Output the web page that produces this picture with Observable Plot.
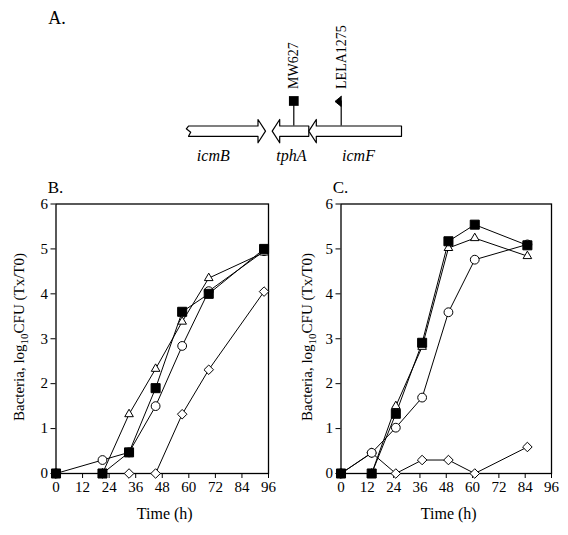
<!DOCTYPE html>
<html><head><meta charset="utf-8">
<script src="https://cdn.jsdelivr.net/npm/d3@7"></script>
<script src="https://cdn.jsdelivr.net/npm/@observablehq/plot@0.6"></script>
<style>
html,body{margin:0;padding:0;background:#fff;}
#fig{position:relative;width:568px;height:535px;overflow:hidden;background:#fff;font-family:'Liberation Serif','Times New Roman',serif;}
#fig > svg{position:absolute;}
#fig svg text{font-family:'Liberation Serif','Times New Roman',serif;}
</style></head><body><div id="fig"></div>
<script>
// ---------- Panel A: gene map (positions in bp) ----------
const geneNames = ["icmB", "tphA", "icmF"];
const geneStart = [0, 837, 1203];
const geneEnd = [770, 1203, 2130];
const geneStrand = [1, -1, -1];
const geneBroken = [true, false, false];
const geneLabelAt = [248, 1028, 1700];
const insertionNames = ["MW627", "LELA1275"];
const insertionPos = [1053, 1527];
const insertionSymbol = ["square", "flag"];

// ---------- Panels B and C: log10 CFU (Tx/T0) over time (h) ----------
const xTicks = [0, 12, 24, 36, 48, 60, 72, 84, 96];
const yTicks = [0, 1, 2, 3, 4, 5, 6];

const timeB = [0, 21, 33, 45, 57, 69, 94];
const bSquare = [0, 0, 0.47, 1.9, 3.6, 4.0, 5.0];
const bCircle = [0, 0.3, 0.47, 1.5, 2.84, 4.06, 4.95];
const bTriangle = [0, 0, 1.32, 2.33, 3.38, 4.35, 4.92];
const bDiamond = [0, 0, 0, 0, 1.32, 2.31, 4.05];

const timeC = [0, 14, 25, 37, 49, 61, 85];
const cSquare = [0, 0, 1.33, 2.91, 5.17, 5.54, 5.08];
const cTriangle = [0, 0, 1.5, 2.82, 5.02, 5.24, 4.84];
const cCircle = [0, 0.46, 1.02, 1.69, 3.59, 4.76, 5.1];
const cDiamond = [0, 0.46, 0, 0.3, 0.3, 0, 0.59];

const FONT = "'Liberation Serif', 'Times New Roman', serif";
const fig = document.getElementById("fig");

// ---------- Panel A ----------
const HEAD = 75, BODY = 0.44, MARK_Y = 2.59, LABEL_Y = 3.62;
function genePolygon(i) {
  const s = geneStart[i], e = geneEnd[i];
  let pts;
  if (geneStrand[i] > 0) {
    pts = [[s, BODY], [e - HEAD, BODY], [e - HEAD, 1], [e, 0], [e - HEAD, -1], [e - HEAD, -BODY], [s, -BODY]];
    if (geneBroken[i]) pts.push([s + 22, -0.1], [s - 22, 0.2]);
  } else {
    pts = [[s, 0], [s + HEAD, 1], [s + HEAD, BODY], [e, BODY], [e, -BODY], [s + HEAD, -BODY], [s + HEAD, -1]];
  }
  pts.push(pts[0]);
  return pts.map(([x, y]) => ({gene: geneNames[i], x, y}));
}
const genePts = geneNames.flatMap((_, i) => genePolygon(i));
const ins = insertionNames.map((name, i) => ({name, x: insertionPos[i], symbol: insertionSymbol[i]}));
const flagPts = ins.filter(d => d.symbol === "flag").flatMap(d =>
  [[d.x, 2.98], [d.x, 2.12], [d.x - 62, 2.55], [d.x, 2.98]].map(([x, y]) => ({name: d.name, x, y})));
const geneLabels = geneNames.map((g, i) => ({g, x: geneLabelAt[i]}));

const plotA = Plot.plot({
  width: 568, height: 175, margin: 0,
  x: {domain: [0, 2130], range: [188, 401], axis: null},
  y: {domain: [-1, 1], range: [142.3, 119], axis: null},
  style: {fontFamily: FONT, background: "transparent", color: "black", overflow: "visible"},
  marks: [
    Plot.ruleX(ins, {x: "x", y1: BODY, y2: MARK_Y, stroke: "black", strokeWidth: 1.2}),
    Plot.line(genePts, {x: "x", y: "y", z: "gene", fill: "white", stroke: "black", strokeWidth: 1.2}),
    Plot.dot(ins.filter(d => d.symbol === "square"), {x: "x", y: MARK_Y, symbol: "square", r: 5.5, fill: "black", stroke: "none"}),
    Plot.line(flagPts, {x: "x", y: "y", z: "name", fill: "black", stroke: "black", strokeWidth: 1}),
    Plot.text(ins, {x: "x", y: LABEL_Y, text: "name", rotate: -90, textAnchor: "start", fontSize: 14}),
    Plot.text(geneLabels, {x: "x", y: -2.09, text: "g", fontSize: 16, fontStyle: "italic"})
  ]
});
plotA.style.left = "0px"; plotA.style.top = "0px";
d3.select(plotA).append("text").attr("x", 57).attr("y", 23.5)
  .style("font-size", "18px").attr("fill", "black").text("A.");
fig.appendChild(plotA);

// ---------- Panels B, C ----------
function panel(letter, times, vals, left, width, marginLeft, marginRight, ylabX) {
  const series = [
    {name: "diamond", values: vals.diamond, symbol: "diamond2", r: 4.3, fill: "white"},
    {name: "circle", values: vals.circle, symbol: "circle", r: 4.4, fill: "white"},
    {name: "triangle", values: vals.triangle, symbol: "triangle", r: 3.2, fill: "white"},
    {name: "square", values: vals.square, symbol: "square", r: 5.1, fill: "black"}
  ];
  const rows = s => s.values.map((v, i) => ({t: times[i], v}));
  const svg = Plot.plot({
    width, height: 360, marginLeft, marginRight, marginTop: 28.5, marginBottom: 62,
    x: {domain: [0, 96], ticks: xTicks, tickSize: 5, tickPadding: 3, tickFormat: d3.format("d"), label: null},
    y: {domain: [0, 6], ticks: yTicks, tickSize: 5, tickPadding: 3, tickFormat: d3.format("d"), label: null},
    style: {fontFamily: FONT, fontSize: "15px", color: "black", background: "transparent", overflow: "visible"},
    marks: [
      Plot.frame({stroke: "black", strokeWidth: 1.3}),
      ...series.map(s => Plot.line(rows(s), {x: "t", y: "v", stroke: "black", strokeWidth: 1})),
      ...series.map(s => Plot.dot(rows(s), {x: "t", y: "v", symbol: s.symbol, r: s.r, fill: s.fill, stroke: "black", strokeWidth: 1}))
    ]
  });
  svg.style.left = left + "px"; svg.style.top = "175px";
  const sel = d3.select(svg);
  sel.selectAll("g[aria-label*='axis'], g[aria-label*='tick label']").style("font-size", "15px");
  const cx = (marginLeft + width - marginRight) / 2;
  sel.append("text").attr("x", marginLeft).attr("y", 17.5)
    .style("font-size", "17px").attr("fill", "black").text(letter);
  sel.append("text").attr("x", cx + 3).attr("y", 344)
    .attr("text-anchor", "middle").style("font-size", "16px").attr("fill", "black").text("Time (h)");
  const yl = sel.append("text").attr("transform", `translate(${ylabX},162) rotate(-90)`)
    .attr("text-anchor", "middle").style("font-size", "15px").attr("fill", "black");
  yl.append("tspan").text("Bacteria, log");
  yl.append("tspan").style("font-size", "11px").attr("dy", 4).text("10");
  yl.append("tspan").attr("dy", -4).text("CFU (Tx/T0)");
  fig.appendChild(svg);
}
panel("B.", timeB, {square: bSquare, circle: bCircle, triangle: bTriangle, diamond: bDiamond}, 0, 290, 55.5, 22, 24);
panel("C.", timeC, {square: cSquare, circle: cCircle, triangle: cTriangle, diamond: cDiamond}, 282, 286, 58.5, 17, 30);
</script></body></html>
